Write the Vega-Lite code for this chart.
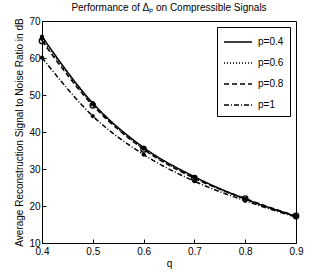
{
  "$schema": "https://vega.github.io/schema/vega-lite/v6.json",
  "autosize": {"type": "none"},
  "width": 254,
  "height": 222,
  "padding": {"left": 42, "top": 21, "right": 31, "bottom": 30},
  "background": "white",
  "config": {
    "font": "Liberation Sans",
    "view": {"stroke": "black", "strokeWidth": 1},
    "axis": {"labelFont": "Liberation Sans", "titleFont": "Liberation Sans", "labelFontSize": 10, "titleFontSize": 10, "titleFontWeight": "normal", "labelColor": "black", "titleColor": "black", "tickColor": "black", "domainColor": "black", "grid": false, "tickSize": -4, "labelPadding": 7, "labelOverlap": false, "labelFlush": false},
    "legend": {"rowPadding": 7, "padding": 6}
  },
  "title": {"text": "Performance of Δₚ on Compressible Signals", "fontSize": 10, "fontWeight": "normal", "font": "Liberation Sans", "offset": 3},
  "data": {"values": [
    {"series": "p=0.4", "q": 0.4, "snr": 65.8},
    {"series": "p=0.4", "q": 0.5, "snr": 47.8},
    {"series": "p=0.4", "q": 0.6, "snr": 35.8},
    {"series": "p=0.4", "q": 0.7, "snr": 27.9},
    {"series": "p=0.4", "q": 0.8, "snr": 21.9},
    {"series": "p=0.4", "q": 0.9, "snr": 17.2},
    {"series": "p=0.6", "q": 0.4, "snr": 65.2},
    {"series": "p=0.6", "q": 0.5, "snr": 47.5},
    {"series": "p=0.6", "q": 0.6, "snr": 35.5},
    {"series": "p=0.6", "q": 0.7, "snr": 27.7},
    {"series": "p=0.6", "q": 0.8, "snr": 21.8},
    {"series": "p=0.6", "q": 0.9, "snr": 17.2},
    {"series": "p=0.8", "q": 0.4, "snr": 64.6},
    {"series": "p=0.8", "q": 0.5, "snr": 47.2},
    {"series": "p=0.8", "q": 0.6, "snr": 35.3},
    {"series": "p=0.8", "q": 0.7, "snr": 27.5},
    {"series": "p=0.8", "q": 0.8, "snr": 22.0},
    {"series": "p=0.8", "q": 0.9, "snr": 17.3},
    {"series": "p=1", "q": 0.4, "snr": 60.1},
    {"series": "p=1", "q": 0.5, "snr": 44.3},
    {"series": "p=1", "q": 0.6, "snr": 33.9},
    {"series": "p=1", "q": 0.7, "snr": 26.7},
    {"series": "p=1", "q": 0.8, "snr": 21.4},
    {"series": "p=1", "q": 0.9, "snr": 17.0}
  ]},
  "encoding": {
    "x": {"field": "q", "type": "quantitative", "scale": {"domain": [0.4, 0.9], "nice": false, "zero": false}, "axis": {"values": [0.4, 0.5, 0.6, 0.7, 0.8, 0.9], "format": ".1f", "title": "q", "titlePadding": 2, "labelOverlap": false}},
    "y": {"field": "snr", "type": "quantitative", "scale": {"domain": [10, 70], "nice": false, "zero": false}, "axis": {"values": [10, 20, 30, 40, 50, 60, 70], "title": "Average Reconstruction Signal to Noise Ratio in dB", "titlePadding": 4, "labelPadding": 6, "labelOverlap": false, "labelBound": false}}
  },
  "layer": [
    {
      "mark": {"type": "line", "color": "black", "strokeWidth": 1.5, "interpolate": "monotone"},
      "encoding": {
        "strokeDash": {"field": "series", "type": "nominal", "scale": {"domain": ["p=0.4", "p=0.6", "p=0.8", "p=1"], "range": [[1, 0], [1, 2], [5, 3], [5, 2, 1, 2]]},
          "legend": {"title": null, "orient": "top-right", "offset": 6, "symbolType": "M-1,0H2.5", "symbolSize": 256, "symbolStrokeColor": "black", "symbolFillColor": "transparent", "symbolStrokeWidth": 1.5, "labelFontSize": 10, "labelFont": "Liberation Sans", "labelColor": "black", "strokeColor": "black", "fillColor": "white", "padding": 6, "rowPadding": 7, "labelOffset": 17}},
        "detail": {"field": "series"}
      }
    },
    {
      "transform": [{"filter": "datum.series != 'p=0.8'"}],
      "mark": {"type": "point", "filled": true, "color": "black", "size": 18, "opacity": 1}
    },
    {
      "transform": [{"filter": "datum.series == 'p=0.8'"}],
      "mark": {"type": "point", "filled": false, "color": "black", "size": 30, "strokeWidth": 1.3, "opacity": 1}
    }
  ]
}
